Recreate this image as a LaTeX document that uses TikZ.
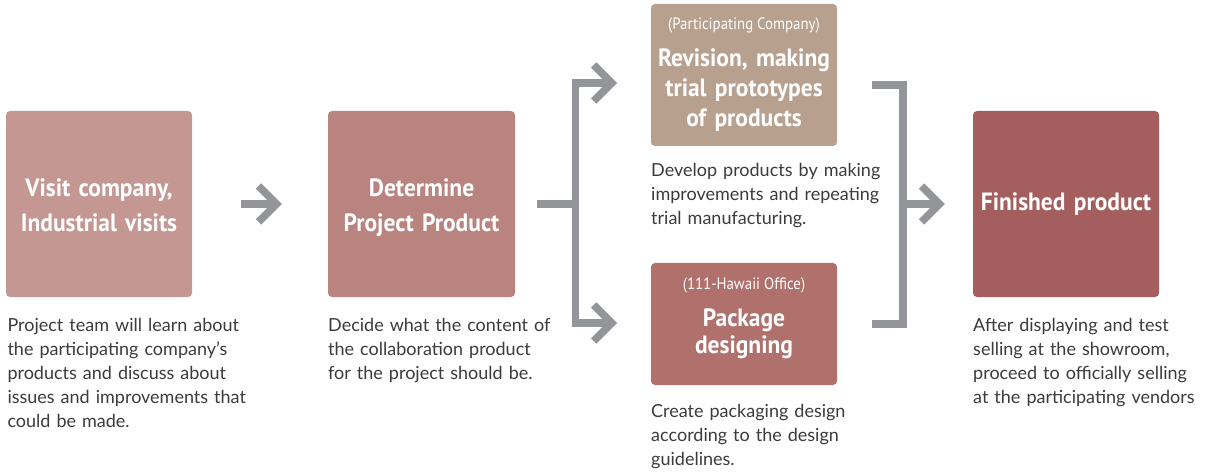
\documentclass[tikz,border=0pt]{standalone}
\usepackage{fontspec}
\setmainfont{Lato}
\newfontfamily\headfont[FakeStretch=0.94]{PT Sans}
\newfontfamily\subfont[FakeStretch=0.9]{PT Sans}
\usetikzlibrary{arrows.meta}

\definecolor{stepA}{HTML}{C59792}
\definecolor{stepB}{HTML}{B9837F}
\definecolor{stepC}{HTML}{B8A08F}
\definecolor{stepD}{HTML}{B0706C}
\definecolor{stepE}{HTML}{A35E5D}
\definecolor{flowgray}{HTML}{939598}
\definecolor{bodygray}{HTML}{3B3B3B}

\tikzset{
  stepbox/.style={rounded corners=4pt, minimum width=186pt, inner sep=0pt, draw=none},
  headtext/.style={text=white, text width=186pt, align=center, inner sep=0pt, anchor=base,
    font=\headfont\bfseries\fontsize{25}{#1}\selectfont},
  headtext/.default=35,
  subhead/.style={text=white, inner sep=0pt, anchor=base,
    font=\subfont\fontsize{16.5}{18}\selectfont},
  bodytext/.style={text=bodygray, text width=270pt, align=left, inner sep=0pt, anchor=base west,
    font=\fontsize{18}{24}\selectfont},
  flow/.style={draw=flowgray, line width=7.5pt, line join=miter},
  tipped/.style={-{Straight Barb[length=18pt, width=36pt, sharp]}},
}

\begin{document}
\begin{tikzpicture}[x=1pt, y=-1pt]
\useasboundingbox (0,0) rectangle (1208,473);

% step boxes
\node[stepbox, fill=stepA, minimum height=186pt] (b1) at (99,204) {};
\node[stepbox, fill=stepB, minimum height=186pt, minimum width=187pt] (b2) at (421.5,204) {};
\node[stepbox, fill=stepC, minimum height=142pt] (b3) at (744,75) {};
\node[stepbox, fill=stepD, minimum height=122pt] (b4) at (744,324) {};
\node[stepbox, fill=stepE, minimum height=186pt] (b5) at (1066,204) {};

% box titles
\node[headtext] (b1t) at (99,196.7) {Visit company,\\Industrial visits};
\node[headtext] (b2t) at (421.5,196.7) {Determine\\Project Product};
\node[subhead] (b3s) at (744,29.3) {(Participating Company)};
\node[headtext=29.7] (b3t) at (744,66.7) {Revision, making\\trial prototypes\\of products};
\node[subhead] (b4s) at (744,289.3) {(111-Hawaii Office)};
\node[headtext=28] (b4t) at (744,326) {Package\\designing};
\node[headtext] (b5t) at (1066,210.7) {Finished product};

% descriptions
\node[bodytext] (d1) at (7.3,331.7) {Project team will learn about\\the participating company’s\\products and discuss about\\issues and improvements that\\could be made.};
\node[bodytext] (d2) at (328,331.7) {Decide what the content of\\the collaboration product\\for the project should be.};
\node[bodytext] (d3) at (651,177) {Develop products by making\\improvements and repeating\\trial manufacturing.};
\node[bodytext] (d4) at (651,417) {Create packaging design\\according to the design\\guidelines.};
\node[bodytext] (d5) at (973,331.7) {After displaying and test\\selling at the showroom,\\proceed to officially selling\\at the participating vendors};

% connectors
\coordinate (fork) at (575.5,204);
\coordinate (toC) at (617,83);
\coordinate (toD) at (617,323);
\coordinate (fromC) at (872,85);
\coordinate (fromD) at (872,324);
\coordinate (merge) at (903,204);

\draw[flow, tipped] ([xshift=49pt]b1.east) -- ([xshift=-46pt]b2.west);
\draw[flow] ([xshift=22pt]b2.east) -- (fork);
\draw[flow, tipped] (fork) |- (toC);
\draw[flow, tipped] (fork) |- (toD);
\draw[flow] (fromC) -| (merge) |- (fromD);
\draw[flow, tipped] (merge) -- ([xshift=-28pt]b5.west);
\end{tikzpicture}
\end{document}
